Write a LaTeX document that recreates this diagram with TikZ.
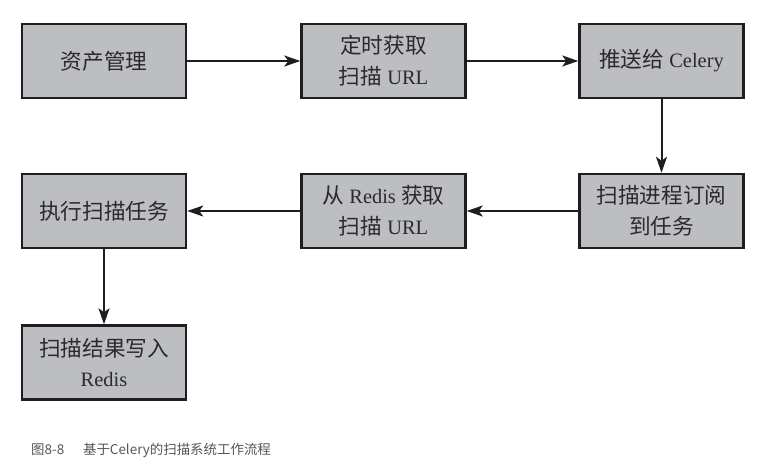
\documentclass[tikz,border=0pt]{standalone}
\usepackage{fontspec}
\setmainfont{Liberation Serif}
\newfontfamily\cjk[Scale=1.06]{Noto Sans CJK SC}
\newfontfamily\capfont{Noto Sans CJK SC}
\usetikzlibrary{arrows.meta}
\definecolor{boxfill}{HTML}{BDBEC1}
\definecolor{boxline}{HTML}{1E1E1E}
\definecolor{boxtext}{HTML}{2A2A2A}
\definecolor{captext}{HTML}{555555}
\begin{document}
\begin{tikzpicture}[x=1bp,y=-1bp,
  stepbox/.style={draw=boxline,line width=2.5bp,fill=boxfill,minimum width=164bp,minimum height=74bp,
    align=center,inner sep=0pt,text=boxtext,font=\fontsize{20.5}{31}\selectfont},
  arr/.style={draw=boxline,line width=2bp,-{Stealth[length=16bp,width=11bp,inset=4bp]}}]
\useasboundingbox (0,0) rectangle (767,464);
\node[stepbox] (a) at (104,61) {\cjk 资产管理};
\node[stepbox] (b) at (383.5,61) {{\cjk 定时获取}\\{\cjk 扫描} URL};
\node[stepbox] (c) at (661.5,61) {{\cjk 推送给} Celery};
\node[stepbox] (d) at (661.5,211) {{\cjk 扫描进程订阅}\\{\cjk 到任务}};
\node[stepbox] (e) at (383.5,211) {{\cjk 从} Redis {\cjk 获取}\\{\cjk 扫描} URL};
\node[stepbox] (f) at (104,211) {\cjk 执行扫描任务};
\node[stepbox] (g) at (104,362.5) {{\cjk 扫描结果写入}\\Redis};
\draw[arr] (a) -- (b);
\draw[arr] (b) -- (c);
\draw[arr] (c) -- (d);
\draw[arr] (d) -- (e);
\draw[arr] (e) -- (f);
\draw[arr] (f) -- (g);
\node[anchor=west,inner sep=0pt,text=captext,font=\capfont\fontsize{13.5}{15}\selectfont] (cap) at (31,450) {图8-8\hspace{1.4em}基于Celery的扫描系统工作流程};
\end{tikzpicture}
\end{document}
